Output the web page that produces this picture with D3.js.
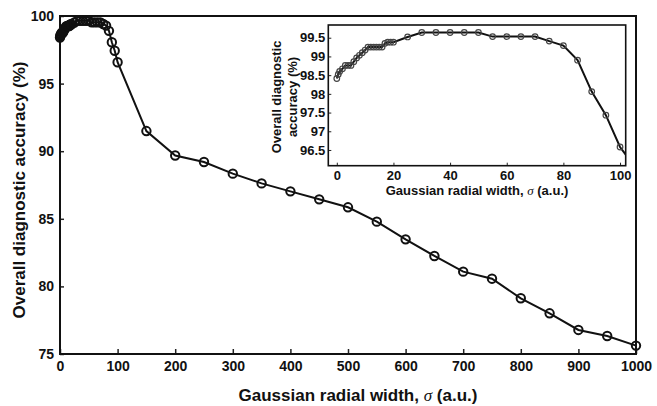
<!DOCTYPE html>
<html>
<head>
<meta charset="utf-8">
<script src="https://cdn.jsdelivr.net/npm/d3@7"></script>
<style>
	body { margin: 0; background: #fff; }
	svg { display: block; font-family: "Liberation Sans", Arial, sans-serif; }
	.main-tick text { font-size: 14px; font-weight: bold; fill: #111; }
	.inset-tick text { font-size: 13px; font-weight: bold; fill: #111; }
	.sig { font-family: "Liberation Serif", serif; font-style: italic; font-weight: normal; }
</style>
</head>
<body>
<div id="chart"></div>
<script>

// gaussian radial width (a.u.)
const sigma = [0, 0.5, 1, 2, 3, 4, 5, 6, 7, 8, 9, 10, 11, 12, 13, 14, 15, 16, 17, 18, 19, 20,
	25, 30, 35, 40, 45, 50, 55, 60, 65, 70, 75, 80, 85, 90, 95, 100,
	150, 200, 250, 300, 350, 400, 450, 500, 550, 600, 650, 700, 750, 800, 850, 900, 950, 1000];

// overall diagnostic accuracy (%)
const accuracy = [98.41, 98.52, 98.6, 98.67, 98.76, 98.76, 98.76, 98.86, 98.96, 99.03, 99.1, 99.17,
	99.25, 99.25, 99.25, 99.25, 99.25, 99.25, 99.35, 99.38, 99.38, 99.38,
	99.52, 99.64, 99.64, 99.64, 99.64, 99.64, 99.53, 99.53, 99.53, 99.53, 99.41, 99.29, 98.9, 98.06, 97.43, 96.58,
	91.49, 89.68, 89.2, 88.34, 87.62, 87.03, 86.44, 85.85, 84.79, 83.48, 82.25, 81.09, 80.57, 79.12, 78.01, 76.78, 76.33, 75.62];

const mainXTicks = [0, 100, 200, 300, 400, 500, 600, 700, 800, 900, 1000];
const mainYTicks = [75, 80, 85, 90, 95, 100];
const insetXTicks = [0, 20, 40, 60, 80, 100];
const insetYTicks = [96.5, 97, 97.5, 98, 98.5, 99, 99.5];

const xLabel = 'Gaussian radial width, ';
const yLabel = 'Overall diagnostic accuracy (%)';

const width = 657, height = 406;
const data = sigma.map((s, i) => ({ s: s, a: accuracy[i] }));

const svg = d3.select('#chart').append('svg')
	.attr('width', width)
	.attr('height', height);

// ---- main plot
const x = d3.scaleLinear().domain([0, 1000]).range([60, 636]);
const y = d3.scaleLinear().domain([75, 100]).range([354, 16]);

svg.append('g')
	.attr('class', 'main-tick')
	.attr('transform', 'translate(0,354)')
	.call(d3.axisBottom(x).tickValues(mainXTicks).tickFormat(d3.format('d'))
		.tickSizeInner(-5).tickSizeOuter(0).tickPadding(7))
	.call(g => g.select('.domain').remove())
	.call(g => g.selectAll('line').attr('stroke', '#222').attr('stroke-width', 1.5));

svg.append('g')
	.attr('class', 'main-tick')
	.attr('transform', 'translate(60,0)')
	.call(d3.axisLeft(y).tickValues(mainYTicks).tickSizeInner(-4).tickSizeOuter(0).tickPadding(6))
	.call(g => g.select('.domain').remove())
	.call(g => g.selectAll('line').attr('stroke', '#222').attr('stroke-width', 1.5));

svg.append('rect')
	.attr('x', 60).attr('y', 16)
	.attr('width', 576).attr('height', 338)
	.attr('fill', 'none')
	.attr('stroke', '#111')
	.attr('stroke-width', 2);

const line = d3.line().x(d => x(d.s)).y(d => y(d.a));

svg.append('path')
	.datum(data)
	.attr('d', line)
	.attr('fill', 'none')
	.attr('stroke', '#111')
	.attr('stroke-width', 2);

svg.append('g').selectAll('circle')
	.data(data)
	.enter().append('circle')
	.attr('cx', d => x(d.s))
	.attr('cy', d => y(d.a))
	.attr('r', 4.2)
	.attr('fill', 'none')
	.attr('stroke', '#111')
	.attr('stroke-width', 2);

svg.append('text')
	.attr('x', 358).attr('y', 401)
	.attr('text-anchor', 'middle')
	.style('font-size', '17px').style('font-weight', 'bold').attr('fill', '#111')
	.text(xLabel)
	.append('tspan').attr('class', 'sig').text('σ')
	.append('tspan').style('font-family', '"Liberation Sans", Arial, sans-serif').style('font-style', 'normal').style('font-weight', 'bold').text(' (a.u.)');

svg.append('text')
	.attr('transform', 'translate(25,190) rotate(-90)')
	.attr('text-anchor', 'middle')
	.style('font-size', '17px').style('font-weight', 'bold').attr('fill', '#111')
	.text(yLabel);

// ---- inset (zoom on 0..100)
const ix = d3.scaleLinear().domain([-3, 102]).range([328.3, 625.7]);
const iy = d3.scaleLinear().domain([96.08, 99.84]).range([165.7, 25]);

svg.append('rect')
	.attr('x', 328.3).attr('y', 25)
	.attr('width', 297.4).attr('height', 140.7)
	.attr('fill', '#fff');

svg.append('defs').append('clipPath')
	.attr('id', 'inset-clip')
	.append('rect')
	.attr('x', 328.3).attr('y', 25)
	.attr('width', 297.4).attr('height', 140.7);

svg.append('g')
	.attr('class', 'inset-tick')
	.attr('transform', 'translate(0,165.7)')
	.call(d3.axisBottom(ix).tickValues(insetXTicks).tickSizeInner(-3).tickSizeOuter(0).tickPadding(5))
	.call(g => g.select('.domain').remove())
	.call(g => g.selectAll('line').attr('stroke', '#222'));

svg.append('g')
	.attr('class', 'inset-tick')
	.attr('transform', 'translate(328.3,0)')
	.call(d3.axisLeft(iy).tickValues(insetYTicks).tickSizeInner(-3).tickSizeOuter(0).tickPadding(3).tickFormat(d3.format('')))
	.call(g => g.select('.domain').remove())
	.call(g => g.selectAll('line').attr('stroke', '#222'));

const insetLine = d3.line().x(d => ix(d.s)).y(d => iy(d.a));

svg.append('path')
	.datum(data.filter(d => d.s <= 150))
	.attr('clip-path', 'url(#inset-clip)')
	.attr('d', insetLine)
	.attr('fill', 'none')
	.attr('stroke', '#111')
	.attr('stroke-width', 2);

svg.append('g').selectAll('circle')
	.data(data.filter(d => d.s <= 100))
	.enter().append('circle')
	.attr('cx', d => ix(d.s))
	.attr('cy', d => iy(d.a))
	.attr('r', 2.8)
	.attr('fill', 'none')
	.attr('stroke', '#444')
	.attr('stroke-width', 1.2);

svg.append('rect')
	.attr('x', 328.3).attr('y', 25)
	.attr('width', 297.4).attr('height', 140.7)
	.attr('fill', 'none')
	.attr('stroke', '#111')
	.attr('stroke-width', 1.6);

svg.append('text')
	.attr('x', 477).attr('y', 195)
	.attr('text-anchor', 'middle')
	.style('font-size', '13px').style('font-weight', 'bold').attr('fill', '#111')
	.text(xLabel)
	.append('tspan').attr('class', 'sig').text('σ')
	.append('tspan').style('font-family', '"Liberation Sans", Arial, sans-serif').style('font-style', 'normal').style('font-weight', 'bold').text(' (a.u.)');

svg.append('text')
	.attr('transform', 'translate(281,97) rotate(-90)')
	.attr('text-anchor', 'middle')
	.style('font-size', '13px').style('font-weight', 'bold').attr('fill', '#111')
	.text('Overall diagnostic');

svg.append('text')
	.attr('transform', 'translate(297,97) rotate(-90)')
	.attr('text-anchor', 'middle')
	.style('font-size', '13px').style('font-weight', 'bold').attr('fill', '#111')
	.text('accuracy (%)');

</script>
</body>
</html>
